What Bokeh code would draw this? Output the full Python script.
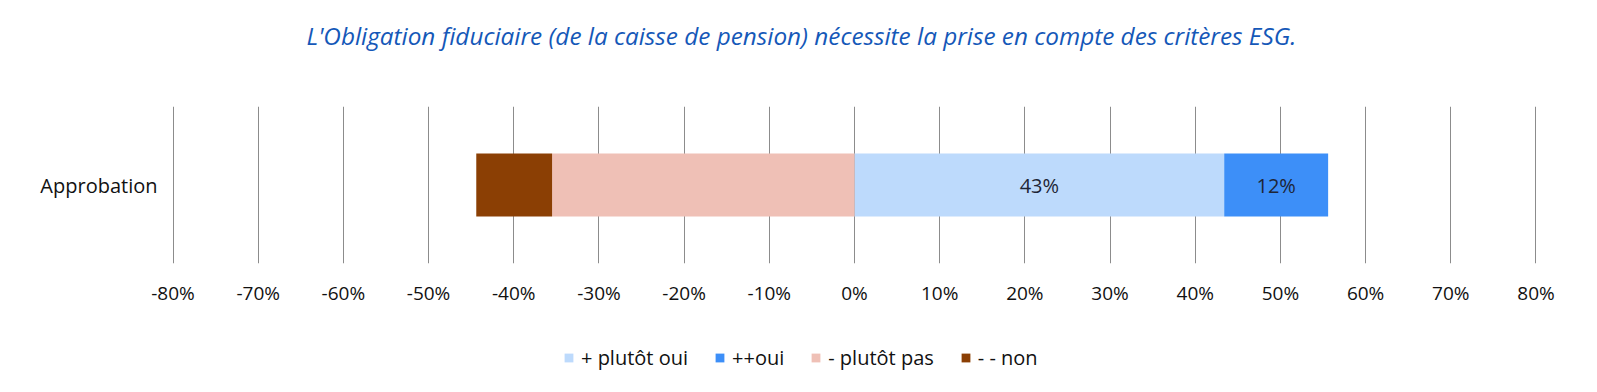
from bokeh.plotting import figure
from bokeh.layouts import column
from bokeh.models import (ColumnDataSource, FixedTicker, NumeralTickFormatter, LabelSet,
                          Title, Legend, LegendItem)
from bokeh.core.properties import value
from bokeh.embed import file_html
from bokeh.resources import INLINE

# ---- data ----
categories = ["Approbation"]
plutot_oui = [0.434]   # + plutôt oui
oui = [0.122]          # ++oui
plutot_pas = [0.355]   # - plutôt pas
non = [0.089]          # - - non
x_ticks = [-0.8, -0.7, -0.6, -0.5, -0.4, -0.3, -0.2, -0.1, 0.0,
           0.1, 0.2, 0.3, 0.4, 0.5, 0.6, 0.7, 0.8]
series_names = ["+ plutôt oui", "++oui", "- plutôt pas", "- - non"]
colors = ["#BDDAFC", "#3D8FF8", "#EFC0B6", "#8B3F04"]
title_text = "L'Obligation fiduciaire (de la caisse de pension) nécessite la prise en compte des critères ESG."

FONT = "Open Sans"
W = 1588

src = ColumnDataSource(dict(
    cat=categories,
    oui_l=[0.0 for _ in plutot_oui], oui_r=plutot_oui,
    poui_l=plutot_oui, poui_r=[a + b for a, b in zip(plutot_oui, oui)],
    pas_l=[-a for a in plutot_pas], pas_r=[0.0 for _ in plutot_pas],
    non_l=[-(a + b) for a, b in zip(plutot_pas, non)], non_r=[-a for a in plutot_pas],
))
seg_cols = [("oui_l", "oui_r"), ("poui_l", "poui_r"), ("pas_l", "pas_r"), ("non_l", "non_r")]

p = figure(width=W, height=323, y_range=categories, x_range=(-0.8006, 0.8006),
           output_backend="svg", toolbar_location=None,
           min_border_left=172, min_border_right=52, min_border_top=106, min_border_bottom=60)
p.title = None
p.outline_line_color = None
p.background_fill_color = "white"
p.border_fill_color = "white"

h = 0.4
for (l, r), c in zip(seg_cols, colors):
    p.hbar(y="cat", left=l, right=r, height=h, source=src, fill_color=c, line_color=None)

# data labels on positive segments
lab_src = ColumnDataSource(dict(
    x=[plutot_oui[0] / 2, plutot_oui[0] + oui[0] / 2],
    y=[categories[0], categories[0]],
    t=["%d%%" % round(plutot_oui[0] * 100), "%d%%" % round(oui[0] * 100)],
))
p.add_layout(LabelSet(x="x", y="y", text="t", source=lab_src, text_align="center",
                      text_baseline="middle", text_font=value(FONT), text_font_size="20px",
                      text_color="#1E2535"))

# axes
p.xaxis.ticker = FixedTicker(ticks=x_ticks)
p.xaxis.formatter = NumeralTickFormatter(format="0%")
p.xaxis.axis_line_color = None
p.xaxis.major_tick_line_color = None
p.xaxis.minor_tick_line_color = None
p.xaxis.major_label_text_font = FONT
p.xaxis.major_label_text_font_size = "19px"
p.xaxis.major_label_text_color = "#111111"
p.xaxis.major_label_standoff = 10

p.yaxis.axis_line_color = None
p.yaxis.major_tick_line_color = None
p.yaxis.minor_tick_line_color = None
p.yaxis.major_label_text_font = FONT
p.yaxis.major_label_text_font_size = "20px"
p.yaxis.major_label_text_color = "#111111"
p.yaxis.major_label_standoff = 9

p.xgrid.ticker = FixedTicker(ticks=x_ticks)
p.xgrid.grid_line_color = "#8C8C8C"
p.xgrid.grid_line_width = 1
p.ygrid.grid_line_color = None

# title (spacer first = nearest the frame)
p.add_layout(Title(text=" ", text_font_size="48px", standoff=0), "above")
p.add_layout(Title(text=title_text, align="left", offset=134, standoff=0,
                   text_font=FONT, text_font_style="italic", text_font_size="24.3px",
                   text_color="#1558B8"), "above")

# legend strip (separate small figure; its bars have zero height so only the legend shows)
pl = figure(width=W, height=60, y_range=categories, x_range=(5, 6),
            output_backend="svg", toolbar_location=None,
            min_border_left=172, min_border_right=52, min_border_top=0, min_border_bottom=0)
pl.title = None
pl.xaxis.visible = False
pl.yaxis.visible = False
pl.xgrid.visible = False
pl.ygrid.visible = False
pl.outline_line_color = None
pl.border_fill_color = "white"
pl.background_fill_color = "white"
leg_r = []
for (l, r), c in zip(seg_cols, colors):
    leg_r.append(pl.hbar(y="cat", left=l, right=r, height=0, source=src, fill_color=c,
                         line_color=None))

legend = Legend(items=[LegendItem(label=n, renderers=[rr]) for n, rr in zip(series_names, leg_r)],
                orientation="horizontal", location=(391, 12),
                glyph_width=11, glyph_height=11, label_text_font=FONT,
                label_text_font_size="20px", label_text_color="#111111",
                border_line_color=None, background_fill_alpha=0,
                spacing=26, label_standoff=7, margin=0, padding=0)
pl.add_layout(legend, "center")

layout = column(p, pl, spacing=0)
open("out.html", "w").write(file_html(layout, INLINE))
